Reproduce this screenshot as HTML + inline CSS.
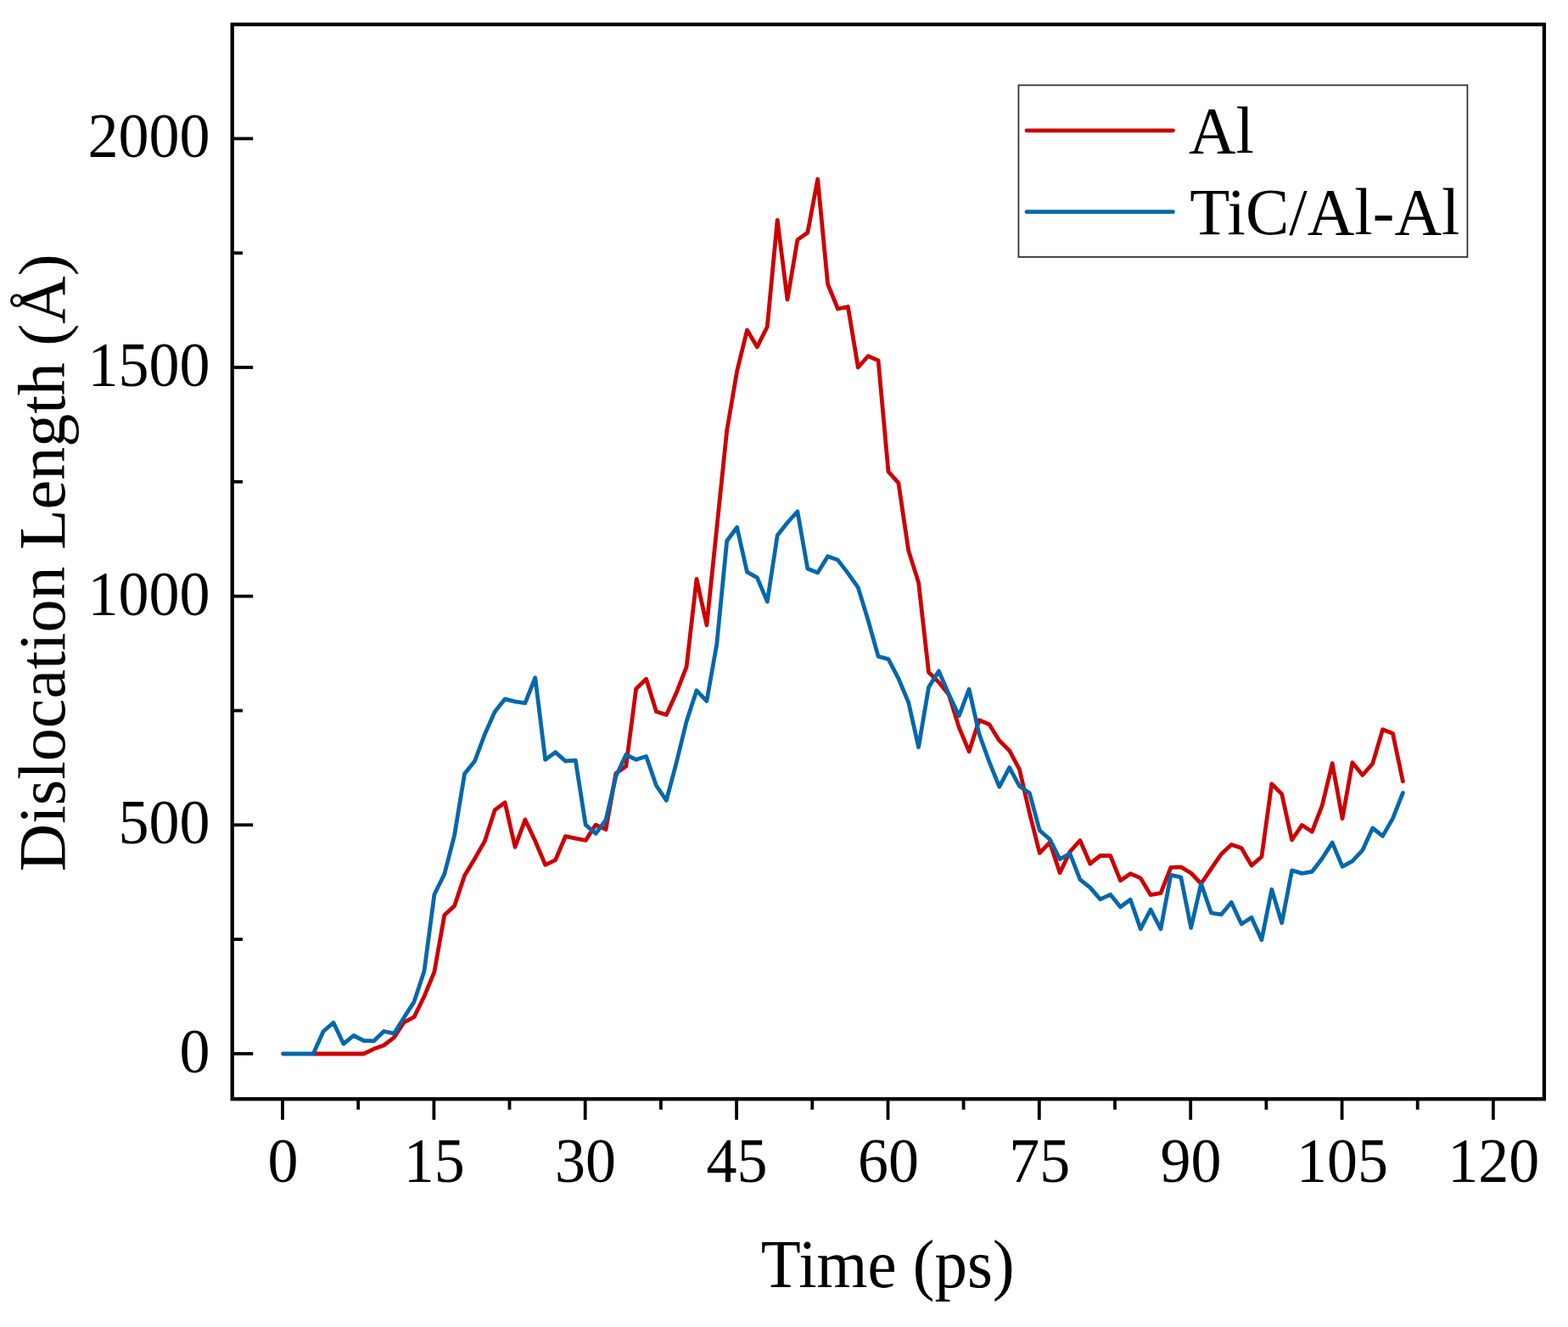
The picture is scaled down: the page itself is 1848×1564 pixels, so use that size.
<!DOCTYPE html>
<html><head><meta charset="utf-8"><title>Dislocation Length vs Time</title>
<style>html,body{margin:0;padding:0;background:#fff;}svg{display:block;}</style></head>
<body><svg width="1848" height="1564" viewBox="0 0 1848 1564">
<rect width="1848" height="1564" fill="#fff"/>
<rect x="273.7" y="28.8" width="1546.2" height="1266.5" fill="none" stroke="#000" stroke-width="4.3"/>
<line x1="273.7" y1="1241.9" x2="298.2" y2="1241.9" stroke="#000" stroke-width="3.8"/>
<line x1="273.7" y1="1107.1" x2="286.0" y2="1107.1" stroke="#000" stroke-width="3.8"/>
<line x1="273.7" y1="972.3" x2="298.2" y2="972.3" stroke="#000" stroke-width="3.8"/>
<line x1="273.7" y1="837.5" x2="286.0" y2="837.5" stroke="#000" stroke-width="3.8"/>
<line x1="273.7" y1="702.7" x2="298.2" y2="702.7" stroke="#000" stroke-width="3.8"/>
<line x1="273.7" y1="567.8" x2="286.0" y2="567.8" stroke="#000" stroke-width="3.8"/>
<line x1="273.7" y1="433.0" x2="298.2" y2="433.0" stroke="#000" stroke-width="3.8"/>
<line x1="273.7" y1="298.2" x2="286.0" y2="298.2" stroke="#000" stroke-width="3.8"/>
<line x1="273.7" y1="163.4" x2="298.2" y2="163.4" stroke="#000" stroke-width="3.8"/>
<line x1="333.0" y1="1295.3" x2="333.0" y2="1319.8" stroke="#000" stroke-width="3.8"/>
<line x1="422.2" y1="1295.3" x2="422.2" y2="1307.8" stroke="#000" stroke-width="3.8"/>
<line x1="511.4" y1="1295.3" x2="511.4" y2="1319.8" stroke="#000" stroke-width="3.8"/>
<line x1="600.5" y1="1295.3" x2="600.5" y2="1307.8" stroke="#000" stroke-width="3.8"/>
<line x1="689.7" y1="1295.3" x2="689.7" y2="1319.8" stroke="#000" stroke-width="3.8"/>
<line x1="778.9" y1="1295.3" x2="778.9" y2="1307.8" stroke="#000" stroke-width="3.8"/>
<line x1="868.1" y1="1295.3" x2="868.1" y2="1319.8" stroke="#000" stroke-width="3.8"/>
<line x1="957.3" y1="1295.3" x2="957.3" y2="1307.8" stroke="#000" stroke-width="3.8"/>
<line x1="1046.5" y1="1295.3" x2="1046.5" y2="1319.8" stroke="#000" stroke-width="3.8"/>
<line x1="1135.6" y1="1295.3" x2="1135.6" y2="1307.8" stroke="#000" stroke-width="3.8"/>
<line x1="1224.8" y1="1295.3" x2="1224.8" y2="1319.8" stroke="#000" stroke-width="3.8"/>
<line x1="1314.0" y1="1295.3" x2="1314.0" y2="1307.8" stroke="#000" stroke-width="3.8"/>
<line x1="1403.2" y1="1295.3" x2="1403.2" y2="1319.8" stroke="#000" stroke-width="3.8"/>
<line x1="1492.4" y1="1295.3" x2="1492.4" y2="1307.8" stroke="#000" stroke-width="3.8"/>
<line x1="1581.6" y1="1295.3" x2="1581.6" y2="1319.8" stroke="#000" stroke-width="3.8"/>
<line x1="1670.7" y1="1295.3" x2="1670.7" y2="1307.8" stroke="#000" stroke-width="3.8"/>
<line x1="1759.9" y1="1295.3" x2="1759.9" y2="1319.8" stroke="#000" stroke-width="3.8"/>
<text transform="translate(247.5,1263.7) scale(1,1.03)" text-anchor="end" font-size="72" font-family="Liberation Serif, Times New Roman, serif">0</text>
<text transform="translate(247.5,994.1) scale(1,1.03)" text-anchor="end" font-size="72" font-family="Liberation Serif, Times New Roman, serif">500</text>
<text transform="translate(247.5,724.5) scale(1,1.03)" text-anchor="end" font-size="72" font-family="Liberation Serif, Times New Roman, serif">1000</text>
<text transform="translate(247.5,454.8) scale(1,1.03)" text-anchor="end" font-size="72" font-family="Liberation Serif, Times New Roman, serif">1500</text>
<text transform="translate(247.5,185.2) scale(1,1.03)" text-anchor="end" font-size="72" font-family="Liberation Serif, Times New Roman, serif">2000</text>
<text transform="translate(333.4,1393.3) scale(1,1.03)" text-anchor="middle" font-size="72" font-family="Liberation Serif, Times New Roman, serif">0</text>
<text transform="translate(511.8,1393.3) scale(1,1.03)" text-anchor="middle" font-size="72" font-family="Liberation Serif, Times New Roman, serif">15</text>
<text transform="translate(690.1,1393.3) scale(1,1.03)" text-anchor="middle" font-size="72" font-family="Liberation Serif, Times New Roman, serif">30</text>
<text transform="translate(868.5,1393.3) scale(1,1.03)" text-anchor="middle" font-size="72" font-family="Liberation Serif, Times New Roman, serif">45</text>
<text transform="translate(1046.9,1393.3) scale(1,1.03)" text-anchor="middle" font-size="72" font-family="Liberation Serif, Times New Roman, serif">60</text>
<text transform="translate(1225.2,1393.3) scale(1,1.03)" text-anchor="middle" font-size="72" font-family="Liberation Serif, Times New Roman, serif">75</text>
<text transform="translate(1403.6,1393.3) scale(1,1.03)" text-anchor="middle" font-size="72" font-family="Liberation Serif, Times New Roman, serif">90</text>
<text transform="translate(1582.0,1393.3) scale(1,1.03)" text-anchor="middle" font-size="72" font-family="Liberation Serif, Times New Roman, serif">105</text>
<text transform="translate(1760.3,1393.3) scale(1,1.03)" text-anchor="middle" font-size="72" font-family="Liberation Serif, Times New Roman, serif">120</text>
<text transform="translate(1046.2,1516.7) scale(1,1.035)" text-anchor="middle" font-size="77" font-family="Liberation Serif, Times New Roman, serif">Time (ps)</text>
<text transform="translate(75.5,663.3) rotate(-90)" text-anchor="middle" font-size="78" font-family="Liberation Serif, Times New Roman, serif">Dislocation Length (Å)</text>
<polyline points="369.2,1242.0 381.1,1242.0 393.0,1242.0 404.8,1242.0 416.7,1242.0 428.6,1242.0 440.5,1236.3 452.4,1232.0 464.3,1222.9 476.2,1204.8 488.1,1198.6 500.0,1174.3 511.9,1145.3 523.8,1078.6 535.6,1067.7 547.5,1032.0 559.4,1012.2 571.3,991.4 583.2,954.7 595.1,945.8 607.0,998.3 618.9,966.1 630.8,991.3 642.7,1019.3 654.6,1013.7 666.4,985.7 678.3,988.1 690.2,990.5 702.1,972.1 714.0,977.7 725.9,911.5 737.8,903.0 749.7,811.8 761.6,800.3 773.5,838.7 785.4,842.5 797.2,816.6 809.1,785.9 821.0,682.4 832.9,736.8 844.8,622.3 856.7,507.4 868.6,437.6 880.5,389.0 892.4,408.9 904.3,385.0 916.2,259.3 928.0,353.2 939.9,282.6 951.8,274.3 963.7,211.1 975.6,334.9 987.5,364.0 999.4,361.5 1011.3,433.0 1023.2,419.7 1035.1,424.9 1047.0,555.8 1058.9,569.1 1070.7,648.9 1082.6,686.6 1094.5,792.3 1106.4,804.1 1118.3,818.8 1130.2,857.1 1142.1,885.7 1154.0,848.8 1165.9,853.8 1177.8,872.9 1189.7,884.7 1201.5,906.8 1213.4,958.3 1225.3,1005.3 1237.2,992.8 1249.1,1028.8 1261.0,1003.8 1272.9,990.5 1284.8,1018.0 1296.7,1008.5 1308.6,1008.5 1320.5,1037.9 1332.3,1029.7 1344.2,1034.9 1356.1,1054.7 1368.0,1052.6 1379.9,1022.3 1391.8,1021.9 1403.7,1029.0 1415.6,1041.5 1427.5,1023.8 1439.4,1006.6 1451.3,995.4 1463.1,999.5 1475.0,1020.1 1486.9,1009.8 1498.8,923.9 1510.7,935.9 1522.6,990.0 1534.5,972.4 1546.4,980.2 1558.3,949.2 1570.2,899.7 1582.1,964.7 1593.9,898.8 1605.8,913.5 1617.7,900.1 1629.6,859.8 1641.5,864.5 1653.4,920.9" fill="none" stroke="#CC0000" stroke-width="4.8" stroke-linejoin="round" stroke-linecap="round"/>
<polyline points="333.5,1242.0 345.4,1242.0 357.3,1242.0 369.2,1242.0 381.1,1215.5 393.0,1205.3 404.8,1230.3 416.7,1220.5 428.6,1226.5 440.5,1226.9 452.4,1215.5 464.3,1218.2 476.2,1199.3 488.1,1180.6 500.0,1144.5 511.9,1054.3 523.8,1030.1 535.6,984.5 547.5,912.1 559.4,897.3 571.3,865.5 583.2,838.8 595.1,823.9 607.0,826.9 618.9,828.7 630.8,798.7 642.7,895.4 654.6,886.6 666.4,897.0 678.3,896.2 690.2,972.1 702.1,982.5 714.0,966.5 725.9,915.0 737.8,889.5 749.7,895.3 761.6,891.5 773.5,926.0 785.4,943.3 797.2,898.8 809.1,850.2 821.0,813.8 832.9,826.3 844.8,759.0 856.7,637.5 868.6,621.5 880.5,674.2 892.4,680.9 904.3,709.1 916.2,631.0 928.0,616.0 939.9,602.9 951.8,670.2 963.7,674.9 975.6,655.8 987.5,660.1 999.4,675.6 1011.3,692.3 1023.2,731.3 1035.1,773.6 1047.0,776.9 1058.9,799.7 1070.7,827.7 1082.6,880.6 1094.5,810.0 1106.4,790.9 1118.3,818.1 1130.2,843.8 1142.1,812.2 1154.0,865.0 1165.9,897.9 1177.8,927.3 1189.7,904.6 1201.5,926.6 1213.4,934.7 1225.3,978.8 1237.2,989.1 1249.1,1012.7 1261.0,1006.0 1272.9,1036.6 1284.8,1046.1 1296.7,1059.9 1308.6,1054.3 1320.5,1069.0 1332.3,1060.3 1344.2,1094.9 1356.1,1072.0 1368.0,1094.9 1379.9,1031.4 1391.8,1033.8 1403.7,1093.5 1415.6,1041.5 1427.5,1076.0 1439.4,1077.8 1451.3,1063.5 1463.1,1089.0 1475.0,1081.4 1486.9,1107.8 1498.8,1048.3 1510.7,1087.7 1522.6,1025.9 1534.5,1029.4 1546.4,1027.3 1558.3,1011.8 1570.2,993.1 1582.1,1021.3 1593.9,1014.9 1605.8,1002.2 1617.7,976.0 1629.6,985.4 1641.5,964.6 1653.4,934.4" fill="none" stroke="#0467AB" stroke-width="4.8" stroke-linejoin="round" stroke-linecap="round"/>
<rect x="1200.45" y="100.4" width="529" height="202.5" fill="#fff" stroke="#333" stroke-width="1.8"/>
<line x1="1210" y1="153.8" x2="1382.5" y2="153.8" stroke="#CC0000" stroke-width="4.8" stroke-linecap="round"/>
<line x1="1210" y1="249.7" x2="1382.5" y2="249.7" stroke="#0467AB" stroke-width="4.8" stroke-linecap="round"/>
<text transform="translate(1401,179.9) scale(1,1.02)" font-size="77" font-family="Liberation Serif, Times New Roman, serif">Al</text>
<text transform="translate(1402.3,276.4) scale(1,1.02)" font-size="77" font-family="Liberation Serif, Times New Roman, serif">TiC/Al-Al</text>
</svg></body></html>
